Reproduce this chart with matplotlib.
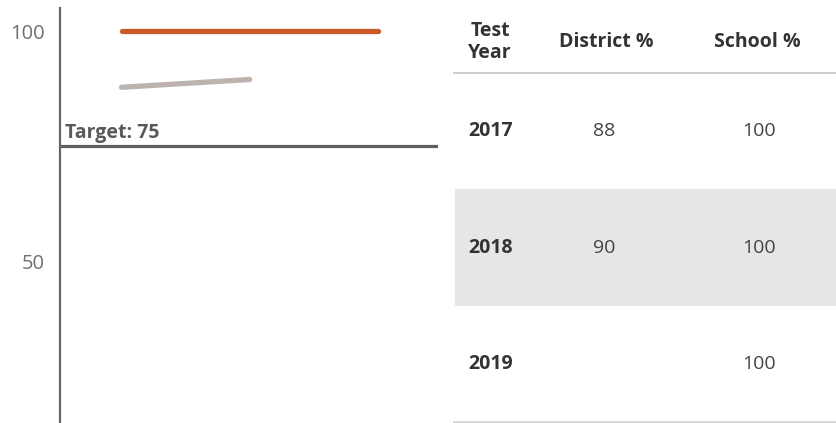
import matplotlib
matplotlib.use("Agg")
import matplotlib.pyplot as plt

years = [2017, 2018, 2019]
district_line = [87.8, 89.5, None]   # plotted values (table shows rounded)
district = [88, 90, None]
school = [100, 100, 100]
target = 75
headers = ["Test\nYear", "District %", "School %"]

W, H = 837, 423
plt.rcParams["font.family"] = ["Open Sans", "DejaVu Sans"]

fig = plt.figure(figsize=(W / 100, H / 100), dpi=100)

# chart part
ax = fig.add_axes([60 / W, 0, 378 / W, 415 / H])
d_x = [y for y, v in zip(years, district_line) if v is not None]
d_y = [v for v in district_line if v is not None]
ax.plot(years, school, color="#c95a27", lw=3.8, solid_capstyle="round")
ax.plot(d_x, d_y, color="#bdb3ae", lw=3.8, solid_capstyle="round")
ax.axhline(target, color="#5f5f5f", lw=2.3)
ax.text(2016.56, target + 0.7, f"Target: {target}", fontsize=14, fontweight="bold",
        color="#595959", va="bottom", ha="left")
ax.set_xlim(2016.52, 2019.47)
ax.set_ylim(15, 105)
ax.set_yticks([50, 100])
ax.set_xticks([])
ax.tick_params(axis="y", length=0, pad=11, labelsize=14.5, labelcolor="#707070")
for s in ["top", "right", "bottom"]:
    ax.spines[s].set_visible(False)
ax.spines["left"].set_color("#666666")
ax.spines["left"].set_linewidth(1.6)

# table part, in pixel coordinates
tx = fig.add_axes([453 / W, 0, 384 / W, 1])
tx.set_xlim(453, 837)
tx.set_ylim(H, 0)
tx.axis("off")

col_x = [490, 606, 757]
hdr_y = 42
row_top = 73
row_h = 116.5
txt_col = "#333333"

for cx, h in zip(col_x, headers):
    tx.text(cx, hdr_y, h, ha="center", va="center", fontsize=14,
            fontweight="bold", color=txt_col, linespacing=1.15)
tx.plot([453, 837], [row_top, row_top], color="#c4c4c4", lw=1.2)

for i, (yr, d, s) in enumerate(zip(years, district, school)):
    y0 = row_top + i * row_h
    if i % 2 == 1:
        tx.fill_between([455, 837], y0, y0 + row_h, color="#e6e6e6", lw=0)
    yc = y0 + row_h / 2
    tx.text(468, yc, str(yr), ha="left", va="center", fontsize=14,
            fontweight="bold", color=txt_col)
    if d is not None:
        tx.text(col_x[1] - 2, yc, str(d), ha="center", va="center",
                fontsize=14, color="#444444")
    tx.text(col_x[2] + 2, yc, str(s), ha="center", va="center",
            fontsize=14, color="#444444")
bottom = row_top + len(years) * row_h
tx.plot([453, 837], [bottom, bottom], color="#d0d0d0", lw=1.2)

fig.savefig("out.png", dpi=100)
